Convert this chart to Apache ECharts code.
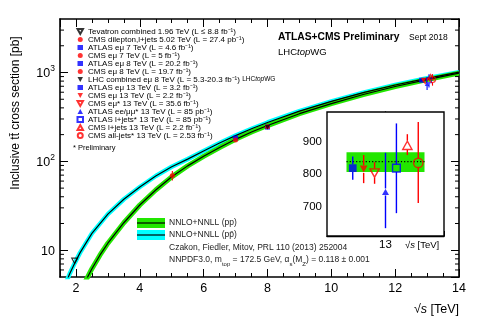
<!DOCTYPE html>
<html>
<head>
<meta charset="utf-8">
<script src="https://cdn.jsdelivr.net/npm/echarts@6/dist/echarts.min.js"></script>
<style>
  html, body { margin: 0; padding: 0; background: #fff; }
  #chart { width: 480px; height: 327px; }
</style>
</head>
<body>
<div id="chart"></div>
<script>
// theory curves, NNLO+NNLL (sqrt(s) in TeV, cross section in pb)
const ppRoots = [2.3, 2.5, 2.75, 3, 3.5, 4, 4.5, 5, 5.5, 6, 6.5, 7, 7.5, 8, 9, 10, 11, 12, 13, 14]
const ppXsec = [4.5, 6.2, 8.8, 12.0, 20.4, 32.3, 47.6, 67, 89, 114, 143, 177, 214, 253, 344, 447, 565, 696, 832, 984]
const ppbarRoots = [1.6, 1.7, 1.8, 1.96, 2.13, 2.5, 3, 3.5, 4, 4.5, 5, 5.5, 6, 6.5, 7, 7.5, 8, 9, 10, 11, 12, 13, 14]
const ppbarXsec = [3.5, 4.4, 5.4, 7.16, 9.4, 15.5, 25.5, 37.5, 51.5, 68.5, 87, 106, 131, 161, 195, 233, 274, 368, 474, 593, 724, 860, 1010]

// measurements
const measNames = [
  'Tevatron combined 1.96 TeV (L ≤ 8.8 fb⁻¹)',
  'CMS dilepton,l+jets 5.02 TeV (L = 27.4 pb⁻¹)',
  'ATLAS eμ 7 TeV (L = 4.6 fb⁻¹)',
  'CMS eμ 7 TeV (L = 5 fb⁻¹)',
  'ATLAS eμ 8 TeV (L = 20.2 fb⁻¹)',
  'CMS eμ 8 TeV (L = 19.7 fb⁻¹)',
  'LHC combined eμ 8 TeV (L = 5.3-20.3 fb⁻¹)',
  'ATLAS eμ 13 TeV (L = 3.2 fb⁻¹)',
  'CMS eμ 13 TeV (L = 2.2 fb⁻¹)',
  'CMS eμ* 13 TeV (L = 35.6 fb⁻¹)',
  'ATLAS ee/μμ* 13 TeV (L = 85 pb⁻¹)',
  'ATLAS l+jets* 13 TeV (L = 85 pb⁻¹)',
  'CMS l+jets 13 TeV (L = 2.2 fb⁻¹)',
  'CMS all-jets* 13 TeV (L = 2.53 fb⁻¹)',
]
const measRoots = [1.96, 5.02, 7, 7, 8, 8, 8, 12.83, 12.89, 12.94, 13.0, 13.06, 13.11, 13.17]
const measXsec = [7.60, 69.5, 182.9, 173.6, 242.9, 244.9, 241.5, 818, 815, 803, 745, 818, 888, 834]
const measErrLo = [0.41, 8.5, 7.1, 6.4, 8.0, 8.5, 8.5, 36, 43, 33, 111, 138, 30, 123]
const measErrHi = [0.41, 8.5, 7.1, 6.4, 8.0, 8.5, 8.5, 36, 43, 33, 120, 137, 34, 125]

// 13 TeV zoom: slot of each 13 TeV measurement (index into meas arrays), theory band
const insetIndex = [7, 8, 9, 10, 11, 12, 13]
const insetSlot = [-3.36, -2.24, -1.12, 0, 1.12, 2.24, 3.36]
const theory13Lo = 806
const theory13Hi = 867
const theory13Mid = 838

const yMinorTicks = [6, 7, 8, 9, 20, 30, 40, 50, 60, 70, 80, 90, 200, 300, 400, 500, 600, 700, 800, 900, 2000, 3000]

// styles
const FONT = 'Liberation Sans, Arial, Helvetica, sans-serif'
const RED = '#ff0000'
const BLUE = '#0000ff'
const GREEN = '#22e600'
const CYAN = '#00ffff'
const TRI_DN = 'path://M0,0L10,0L5,9Z'
const TRI_UP = 'path://M5,0L10,9L0,9Z'

const measStyle = [
  { sym: TRI_DN, color: '#000', open: true, size: 6 },
  { sym: 'circle', color: RED, size: 5 },
  { sym: 'rect', color: BLUE, size: 5 },
  { sym: 'circle', color: RED, size: 5 },
  { sym: 'rect', color: BLUE, size: 5 },
  { sym: 'circle', color: RED, size: 5 },
  { sym: TRI_DN, color: '#000', size: 5 },
  { sym: 'rect', color: BLUE, size: 5 },
  { sym: TRI_DN, color: RED, size: 5 },
  { sym: TRI_DN, color: RED, open: true, size: 6 },
  { sym: TRI_UP, color: BLUE, size: 4.5 },
  { sym: 'rect', color: BLUE, open: true, size: 5 },
  { sym: TRI_UP, color: RED, open: true, size: 6 },
  { sym: 'circle', color: RED, open: true, size: 6 },
]

const zip = (xs, ys) => xs.map((x, i) => [x, ys[i]])

function itemStyleOf(s) {
  return s.open
    ? { color: 'rgba(0,0,0,0)', borderColor: s.color, borderWidth: 1.1 }
    : { color: s.color, borderWidth: 0 }
}

// error bars, split around the marker like ROOT does
function makeErrRender(scale) {
  return function (params, api) {
    const idx = api.value(4)
    const st = measStyle[idx]
    const gap = (st.size * scale) / 2
    const c = api.coord([api.value(0), api.value(1)])
    const top = api.coord([api.value(0), api.value(3)])
    const bot = api.coord([api.value(0), api.value(2)])
    const children = []
    const lw = scale > 1 ? 1.4 : 1.1
    if (c[1] - gap > top[1]) {
      children.push({ type: 'line', shape: { x1: c[0], y1: top[1], x2: c[0], y2: c[1] - gap }, style: { stroke: st.color, lineWidth: lw } })
    }
    if (bot[1] > c[1] + gap) {
      children.push({ type: 'line', shape: { x1: c[0], y1: c[1] + gap, x2: c[0], y2: bot[1] }, style: { stroke: st.color, lineWidth: lw } })
    }
    return { type: 'group', children }
  }
}

const chart = echarts.init(document.getElementById('chart'), null, { renderer: 'canvas' })

const axisLineStyle = { color: '#000', width: 1.6 }

const series = []

// theory bands (thick lines) and central lines
series.push({
  name: 'ppbarBand', type: 'line', xAxisIndex: 0, yAxisIndex: 0, z: 2,
  data: zip(ppbarRoots, ppbarXsec), symbol: 'none', smooth: false,
  lineStyle: { color: CYAN, width: 4.5, join: 'round' }, silent: true,
})
series.push({
  name: 'ppBand', type: 'line', xAxisIndex: 0, yAxisIndex: 0, z: 3,
  data: zip(ppRoots, ppXsec), symbol: 'none', smooth: false,
  lineStyle: { color: GREEN, width: 5, join: 'round' }, silent: true,
})
series.push({
  name: 'ppbarLine', type: 'line', xAxisIndex: 0, yAxisIndex: 0, z: 4,
  data: zip(ppbarRoots, ppbarXsec), symbol: 'none', smooth: false,
  lineStyle: { color: '#000', width: 1.2 }, silent: true,
})
series.push({
  name: 'ppLine', type: 'line', xAxisIndex: 0, yAxisIndex: 0, z: 4,
  data: zip(ppRoots, ppXsec), symbol: 'none', smooth: false,
  lineStyle: { color: '#000', width: 1.2 }, silent: true,
})

// log minor ticks on left and right frame
series.push({
  type: 'custom', xAxisIndex: 0, yAxisIndex: 0, z: 5, silent: true,
  data: yMinorTicks.map(v => [2, v]),
  encode: { x: 0, y: 1 },
  renderItem: (params, api) => {
    const cs = params.coordSys
    const y = api.coord([2, api.value(1)])[1]
    return {
      type: 'group',
      children: [
        { type: 'line', shape: { x1: cs.x, y1: y, x2: cs.x + 4, y2: y }, style: { stroke: '#000', lineWidth: 1 } },
        { type: 'line', shape: { x1: cs.x + cs.width - 4, y1: y, x2: cs.x + cs.width, y2: y }, style: { stroke: '#000', lineWidth: 1 } },
      ],
    }
  },
})

// main-plot error bars
series.push({
  type: 'custom', xAxisIndex: 0, yAxisIndex: 0, z: 6, silent: true,
  data: measNames.map((n, i) => [measRoots[i], measXsec[i], measXsec[i] - measErrLo[i], measXsec[i] + measErrHi[i], i]),
  encode: { x: 0, y: 1 },
  renderItem: makeErrRender(1),
})

// main-plot markers
measNames.forEach((name, i) => {
  const st = measStyle[i]
  series.push({
    name, type: 'scatter', xAxisIndex: 0, yAxisIndex: 0, z: 7,
    data: [[measRoots[i], measXsec[i]]],
    symbol: st.sym, symbolSize: st.size, symbolKeepAspect: true,
    itemStyle: itemStyleOf(st), silent: true,
  })
})

// inset: theory band at 13 TeV
series.push({
  type: 'custom', xAxisIndex: 2, yAxisIndex: 2, z: 3, silent: true,
  data: [[-4, theory13Lo, 4, theory13Hi]],
  encode: { x: [0, 2], y: [1, 3] },
  renderItem: (params, api) => {
    const a = api.coord([api.value(0), api.value(3)])
    const b = api.coord([api.value(2), api.value(1)])
    return { type: 'rect', shape: { x: a[0], y: a[1], width: b[0] - a[0], height: b[1] - a[1] }, style: { fill: GREEN } }
  },
})
series.push({
  type: 'line', xAxisIndex: 2, yAxisIndex: 2, z: 4, silent: true,
  data: [[-4, theory13Mid], [4, theory13Mid]], symbol: 'none',
  lineStyle: { color: '#000', width: 1.2, type: [1.2, 2] },
})
series.push({
  type: 'custom', xAxisIndex: 2, yAxisIndex: 2, z: 5, silent: true,
  data: insetIndex.map((i, k) => [insetSlot[k], measXsec[i], measXsec[i] - measErrLo[i], measXsec[i] + measErrHi[i], i]),
  encode: { x: 0, y: 1 },
  renderItem: makeErrRender(1.55),
})
insetIndex.forEach((i, k) => {
  const st = measStyle[i]
  series.push({
    name: measNames[i], type: 'scatter', xAxisIndex: 2, yAxisIndex: 2, z: 6,
    data: [[insetSlot[k], measXsec[i]]],
    symbol: st.sym, symbolSize: st.size * 1.55, symbolKeepAspect: true,
    itemStyle: st.open ? { color: 'rgba(0,0,0,0)', borderColor: st.color, borderWidth: 1.4 } : { color: st.color },
    silent: true,
  })
})

const option = {
  backgroundColor: '#fff',
  animation: false,
  textStyle: { fontFamily: FONT },
  grid: [
    { left: 60, top: 19, width: 399, height: 258, show: false },
    { left: 327, top: 112, width: 117, height: 124, show: true, borderColor: '#000', borderWidth: 1.4, backgroundColor: '#fff', z: 1 },
  ],
  xAxis: [
    {
      type: 'value', gridIndex: 0, position: 'bottom', min: 1.5, max: 14, splitNumber: 6,
      axisLine: { lineStyle: axisLineStyle },
      axisTick: { inside: true, length: 8, lineStyle: { color: '#000', width: 1 } },
      minorTick: { show: true, splitNumber: 4, length: 4, lineStyle: { color: '#000', width: 1 } },
      axisLabel: { color: '#000', fontSize: 12.5, margin: 5, fontFamily: FONT, showMinLabel: false },
      splitLine: { show: false }, minorSplitLine: { show: false },
    },
    {
      type: 'value', gridIndex: 0, position: 'top', min: 1.5, max: 14, splitNumber: 6,
      axisLine: { lineStyle: axisLineStyle },
      axisTick: { inside: true, length: 8, lineStyle: { color: '#000', width: 1 } },
      minorTick: { show: true, splitNumber: 4, length: 4, lineStyle: { color: '#000', width: 1 } },
      axisLabel: { show: false },
      splitLine: { show: false }, minorSplitLine: { show: false },
    },
    {
      type: 'value', gridIndex: 1, position: 'bottom', min: -6, max: 6, interval: 2,
      axisLine: { lineStyle: { color: '#000', width: 1.4 } },
      axisTick: { inside: true, length: 5, lineStyle: { color: '#000', width: 1 } },
      axisLabel: { color: '#000', fontSize: 11.5, margin: 3, fontFamily: FONT, formatter: v => (v === 0 ? '13' : '') },
      splitLine: { show: false },
    },
  ],
  yAxis: [
    {
      type: 'log', logBase: 10, gridIndex: 0, position: 'left', min: 5, max: 4000,
      axisLine: { lineStyle: axisLineStyle },
      axisTick: { inside: true, length: 8, lineStyle: { color: '#000', width: 1 } },
      axisLabel: {
        color: '#000', margin: 5, fontFamily: FONT, showMinLabel: false, showMaxLabel: false,
        formatter: v => {
          const e = Math.round(Math.log10(v))
          return e === 1 ? '{b|10}' : '{b|10}{s|' + e + '}'
        },
        rich: {
          b: { fontSize: 12.5, fontFamily: FONT, color: '#000', lineHeight: 16, verticalAlign: 'bottom' },
          s: { fontSize: 8.5, fontFamily: FONT, color: '#000', lineHeight: 16, verticalAlign: 'top' },
        },
      },
      splitLine: { show: false },
    },
    {
      type: 'log', logBase: 10, gridIndex: 0, position: 'right', min: 5, max: 4000,
      axisLine: { lineStyle: axisLineStyle },
      axisTick: { inside: true, length: 8, lineStyle: { color: '#000', width: 1 } },
      axisLabel: { show: false },
      splitLine: { show: false },
    },
    {
      type: 'value', gridIndex: 1, position: 'left', min: 610, max: 990,
      axisLine: { lineStyle: { color: '#000', width: 1.4 } },
      axisTick: { inside: true, length: 5, lineStyle: { color: '#000', width: 1 } },
      axisLabel: { color: '#000', fontSize: 11.5, margin: 5, fontFamily: FONT, showMinLabel: false, showMaxLabel: false },
      splitLine: { show: false },
    },
  ],
  legend: {
    orient: 'vertical', left: 76.5, top: 27.5, padding: 0,
    itemWidth: 5.5, itemHeight: 5, itemGap: 0,
    selectedMode: false,
    data: measNames,
    formatter: name => (name.startsWith('LHC combined') ? name + ' {w|LHC}{wi|top}{w|WG}' : name),
    textStyle: {
      fontSize: 8, fontFamily: FONT, color: '#000', lineHeight: 7.8, padding: 0,
      rich: {
        w: { fontSize: 6.5, fontFamily: FONT, color: '#000', lineHeight: 7.8 },
        wi: { fontSize: 6.5, fontFamily: FONT, fontStyle: 'italic', color: '#000', lineHeight: 7.8 },
      },
    },
  },
  graphic: [
    // y axis title
    {
      type: 'text', x: 16, y: 113, rotation: Math.PI / 2,
      style: { text: 'Inclusive tt\u0304 cross section [pb]', font: '12px ' + FONT, fill: '#000', textAlign: 'center', textVerticalAlign: 'middle' },
    },
    // x axis title
    {
      type: 'text', x: 459, y: 310,
      style: {
        text: '{n|√}{i|s}{n| [TeV]}', textAlign: 'right', textVerticalAlign: 'middle',
        rich: {
          n: { fontSize: 12.5, fontFamily: FONT, fill: '#000' },
          i: { fontSize: 12.5, fontFamily: FONT, fontStyle: 'italic', fill: '#000' },
        },
      },
    },
    // header
    { type: 'text', x: 278, y: 37, style: { text: 'ATLAS+CMS Preliminary', font: 'bold 10.3px ' + FONT, fill: '#000', textVerticalAlign: 'middle' } },
    { type: 'text', x: 409, y: 38, style: { text: 'Sept 2018', font: '8.5px ' + FONT, fill: '#000', textVerticalAlign: 'middle' } },
    {
      type: 'text', x: 278, y: 52,
      style: {
        text: '{n|LHC}{i|top}{n|WG}', textVerticalAlign: 'middle',
        rich: {
          n: { fontSize: 9.5, fontFamily: FONT, fill: '#000' },
          i: { fontSize: 9.5, fontFamily: FONT, fontStyle: 'italic', fill: '#000' },
        },
      },
    },
    { type: 'text', x: 73, y: 148, style: { text: '* Preliminary', font: '7.5px ' + FONT, fill: '#000', textVerticalAlign: 'middle' } },
    // theory legend
    { type: 'rect', shape: { x: 137, y: 218, width: 28, height: 10 }, style: { fill: GREEN } },
    { type: 'line', shape: { x1: 137, y1: 223, x2: 165, y2: 223 }, style: { stroke: '#000', lineWidth: 1.2 } },
    { type: 'rect', shape: { x: 137, y: 230, width: 28, height: 10 }, style: { fill: CYAN } },
    { type: 'line', shape: { x1: 137, y1: 235, x2: 165, y2: 235 }, style: { stroke: '#000', lineWidth: 1.2 } },
    { type: 'text', x: 169, y: 223, style: { text: 'NNLO+NNLL (pp)', font: '8.5px ' + FONT, fill: '#222', textVerticalAlign: 'middle' } },
    { type: 'text', x: 169, y: 235, style: { text: 'NNLO+NNLL (pp\u0304)', font: '8.5px ' + FONT, fill: '#222', textVerticalAlign: 'middle' } },
    { type: 'text', x: 169, y: 248, style: { text: 'Czakon, Fiedler, Mitov, PRL 110 (2013) 252004', font: '8.5px ' + FONT, fill: '#222', textVerticalAlign: 'middle' } },
    {
      type: 'text', x: 169, y: 261,
      style: {
        text: '{n|NNPDF3.0, m}{d|top}{n| = 172.5 GeV, α}{d|s}{n|(M}{d|Z}{n|) = 0.118 ± 0.001}',
        textVerticalAlign: 'middle',
        rich: {
          n: { fontSize: 8.5, fontFamily: FONT, fill: '#222', lineHeight: 12, verticalAlign: 'top' },
          d: { fontSize: 6, fontFamily: FONT, fill: '#222', lineHeight: 12, verticalAlign: 'bottom' },
        },
      },
    },
    // inset axis title
    {
      type: 'text', x: 405, y: 245,
      style: {
        text: '{n|√}{i|s}{n| [TeV]}', textVerticalAlign: 'middle',
        rich: {
          n: { fontSize: 9.5, fontFamily: FONT, fill: '#000' },
          i: { fontSize: 9.5, fontFamily: FONT, fontStyle: 'italic', fill: '#000' },
        },
      },
    },
  ],
  series,
}

chart.setOption(option)
</script>
</body>
</html>
